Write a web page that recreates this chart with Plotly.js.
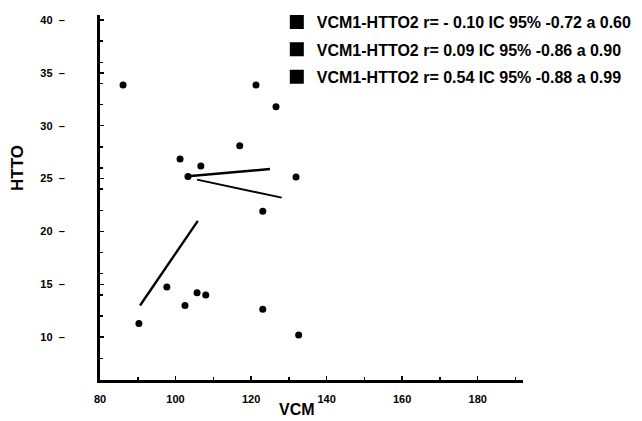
<!DOCTYPE html>
<html>
<head>
<meta charset="utf-8">
<script src="https://cdn.plot.ly/plotly-3.0.1.min.js"></script>
<style>
html,body{margin:0;padding:0;background:#fff;}
#chart{width:642px;height:421px;}
.legend .traces, .legend .traces *{opacity:1 !important;}
</style>
</head>
<body>
<div id="chart"></div>
<script>
// Legend labels
const seriesNames = [
  'VCM1-HTTO2 r= - 0.10 IC 95% -0.72 a 0.60',
  'VCM1-HTTO2 r= 0.09 IC 95% -0.86 a 0.90',
  'VCM1-HTTO2 r= 0.54 IC 95% -0.88 a 0.99'
];
// Scatter points (VCM, HTTO) per group
const g1x = [86.1, 126.6, 131.9, 123.1, 132.6];
const g1y = [33.85, 31.8, 25.15, 21.9, 10.2];
const g2x = [106.7, 121.3, 117.0, 123.1, 108.0];
const g2y = [26.2, 33.85, 28.1, 12.65, 14.0];
const g3x = [90.3, 97.7, 101.2, 102.5, 103.3, 105.7];
const g3y = [11.3, 14.75, 26.85, 13.0, 25.2, 14.2];
// Regression line endpoints
const l1x = [105.7, 128.1];
const l1y = [24.9, 23.2];
const l2x = [102.5, 125.0];
const l2y = [25.2, 25.9];
const l3x = [90.6, 105.9];
const l3y = [13.0, 21.0];
// Tick labels
const xTickVals = [80, 100, 120, 140, 160, 180];
const xTickText = ['80', '100', '120', '140', '160', '180'];
const yTickVals = [10, 15, 20, 25, 30, 35, 40];
const yTickText = ['10', '15', '20', '25', '30', '35', '40'];

const groups = [[g1x, g1y], [g2x, g2y], [g3x, g3y]];
const ptMarker = {color: '#000', size: 7, symbol: 'circle'};
const traces = [];
groups.forEach(function (g) {
  traces.push({x: g[0], y: g[1], type: 'scatter', mode: 'markers', marker: ptMarker,
    showlegend: false, cliponaxis: false});
});
[[l1x, l1y, 2], [l2x, l2y, 2.6], [l3x, l3y, 2.4]].forEach(function (l) {
  traces.push({x: l[0], y: l[1], type: 'scatter', mode: 'lines',
    line: {color: '#000', width: l[2]}, showlegend: false});
});
// legend entries (square keys) for each group
seriesNames.forEach(function (n, i) {
  traces.push({x: groups[i][0], y: groups[i][1], type: 'scatter', mode: 'markers', name: n,
    legendgroup: 'g' + i, visible: 'legendonly',
    marker: {color: '#000', size: 14, symbol: 'square'}, showlegend: true});
});

const tickFont = {family: 'Liberation Sans, Arial, sans-serif', size: 11, color: '#000', weight: 'bold'};
const layout = {
  width: 642, height: 421,
  paper_bgcolor: '#fff', plot_bgcolor: '#fff',
  margin: {l: 100, r: 119, t: 15, b: 41, pad: 0, autoexpand: false},
  showlegend: true,
  legend: {
    x: 0.418, y: 1.027, xanchor: 'left', yanchor: 'top',
    bgcolor: 'rgba(0,0,0,0)', borderwidth: 0,
    traceorder: 'grouped', tracegroupgap: 3.5,
    font: {family: 'Liberation Sans, Arial, sans-serif', size: 16, color: '#000', weight: 'bold'}
  },
  xaxis: {
    range: [80, 192], autorange: false, showgrid: false, zeroline: false,
    showline: true, linecolor: '#000', linewidth: 2.5,
    tickmode: 'array', tickvals: xTickVals, ticktext: xTickText,
    ticks: 'inside', ticklen: 4, tickwidth: 1.5, tickcolor: '#000',
    minor: {dtick: 10, ticks: 'inside', ticklen: 3, tickwidth: 1.5, tickcolor: '#000'},
    ticklabelstandoff: 7,
    tickfont: tickFont
  },
  yaxis: {
    range: [5.95, 40.47], autorange: false, showgrid: false, zeroline: false,
    showline: true, linecolor: '#000', linewidth: 3,
    tickmode: 'array', tickvals: yTickVals,
    ticktext: yTickText.map(function (t) { return t + '\u00a0\u00a0\u2013'; }),
    ticks: 'inside', ticklen: 4, tickwidth: 1.5, tickcolor: '#000',
    minor: {dtick: 2, ticks: 'inside', ticklen: 3, tickwidth: 1.5, tickcolor: '#000'},
    ticklabelstandoff: 30,
    tickfont: tickFont
  },
  annotations: [
    {text: 'VCM', xref: 'paper', yref: 'paper', x: (297 - 100) / 423, y: -(410 - 380) / 365,
     showarrow: false, xanchor: 'center', yanchor: 'middle',
     font: {family: 'Liberation Sans, Arial, sans-serif', size: 16, color: '#000', weight: 'bold'}},
    {text: 'HTTO', xref: 'paper', yref: 'paper', x: (17 - 100) / 423, y: (380 - 168) / 365,
     textangle: -90, showarrow: false, xanchor: 'center', yanchor: 'middle',
     font: {family: 'Liberation Sans, Arial, sans-serif', size: 17, color: '#000', weight: 'bold'}}
  ]
};
Plotly.newPlot('chart', traces, layout, {displayModeBar: false, staticPlot: true});
</script>
</body>
</html>
